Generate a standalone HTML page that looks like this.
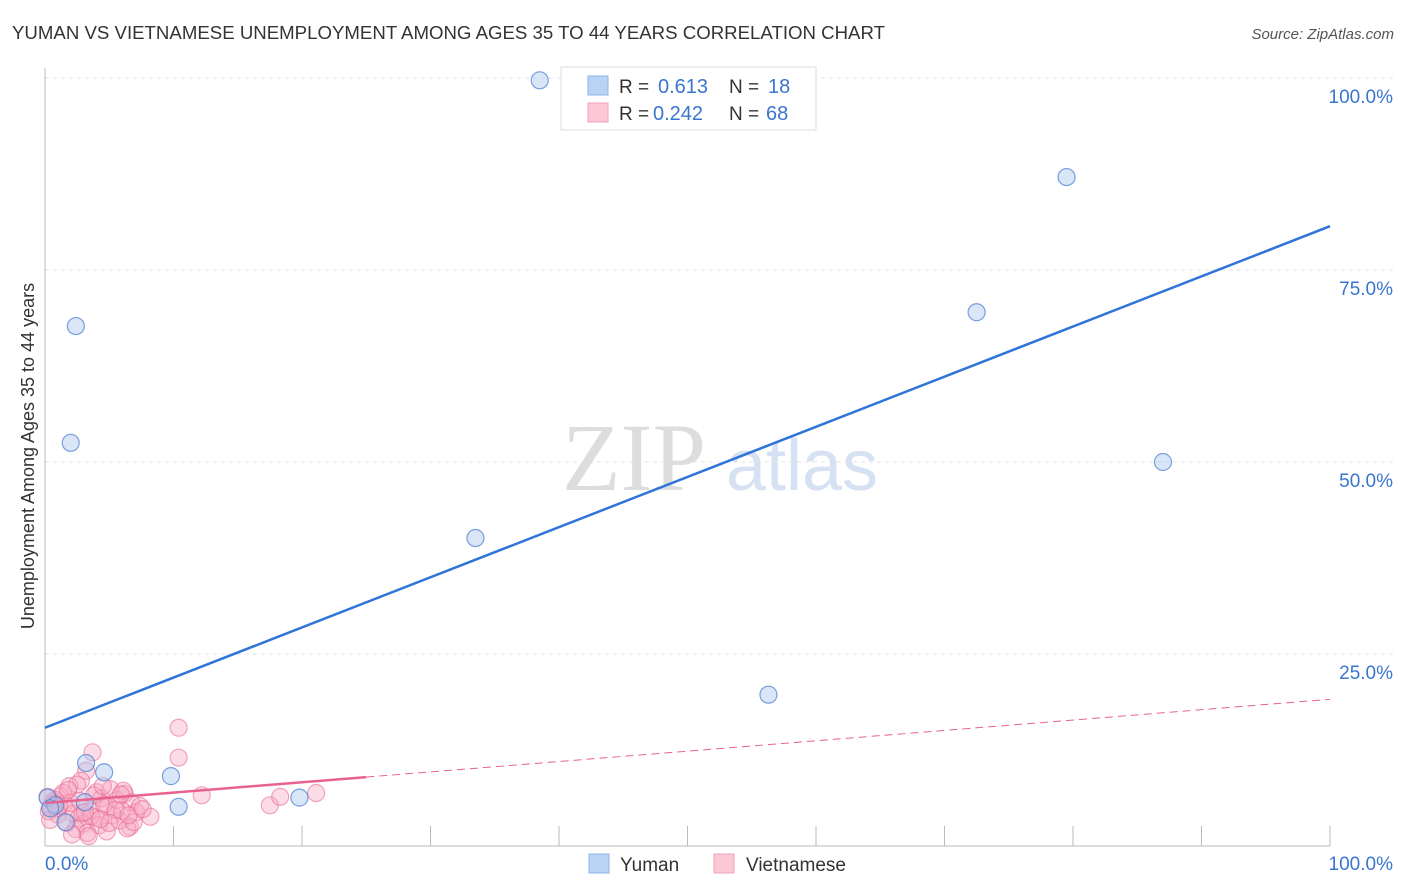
<!DOCTYPE html>
<html><head><meta charset="utf-8">
<style>
body{margin:0;background:#fff;font-family:"Liberation Sans",sans-serif;}
svg{display:block}
</style></head>
<body>
<svg id="chart" width="1406" height="892" xmlns="http://www.w3.org/2000/svg">
<text x="12" y="39" font-size="18" fill="#333" textLength="873" lengthAdjust="spacingAndGlyphs">YUMAN VS VIETNAMESE UNEMPLOYMENT AMONG AGES 35 TO 44 YEARS CORRELATION CHART</text>
<text x="1394" y="39" font-size="15" fill="#555" font-style="italic" text-anchor="end">Source: ZipAtlas.com</text>
<text x="34" y="456" font-size="18" fill="#333" text-anchor="middle" transform="rotate(-90 34 456)">Unemployment Among Ages 35 to 44 years</text>
<g>
<text x="634" y="490" font-size="96" fill="#ddd" font-family="Liberation Serif,serif" text-anchor="middle">ZIP</text>
<text x="802" y="490" font-size="72" fill="#d6e2f3" text-anchor="middle">atlas</text>
</g>
<g id="grid"></g>
<g id="axes"></g>
<g id="marks"></g>
<g>
<rect x="561" y="67" width="255" height="63" fill="#fff" stroke="#ddd"/>
<rect x="588" y="76" width="20" height="19" fill="#b9d3f5" stroke="#8fb4e6"/>
<rect x="588" y="103" width="20" height="19" fill="#fcc8d6" stroke="#f0a0b8"/>
<text x="619" y="93" font-size="19" fill="#333">R =</text>
<text x="658" y="93" font-size="20" fill="#3a75d0">0.613</text>
<text x="729" y="93" font-size="19" fill="#333">N =</text>
<text x="768" y="93" font-size="20" fill="#3a75d0">18</text>
<text x="619" y="120" font-size="19" fill="#333">R =</text>
<text x="653" y="120" font-size="20" fill="#3a75d0">0.242</text>
<text x="729" y="120" font-size="19" fill="#333">N =</text>
<text x="766" y="120" font-size="20" fill="#3a75d0">68</text>
</g>
<g>
<rect x="589" y="854" width="20" height="19" fill="#b9d3f5" stroke="#8fb4e6"/>
<text x="620" y="871" font-size="19" fill="#333">Yuman</text>
<rect x="714" y="854" width="20" height="19" fill="#fcc8d6" stroke="#f0a0b8"/>
<text x="746" y="871" font-size="19" fill="#333">Vietnamese</text>
</g>
</svg>
<script>
const yumanX=[38.5,79.5,2.4,72.5,2.0,87.0,33.5,56.3,3.2,4.6,9.8,10.4,19.8,3.1,0.2,1.6,0.8,0.4];
const yumanY=[99.7,87.1,67.7,69.5,52.5,50.0,40.1,19.7,10.8,9.6,9.1,5.1,6.3,5.7,6.3,3.1,5.3,4.9];
const vietX=[10.4,10.4,3.7,12.2,17.5,18.3,21.1,8.2,6.6,3.2,2.8,1.9,1.2,0.5,0.3,0.8,1.5,2.2,2.6,3.0,3.5,4.0,4.4,4.9,5.3,5.8,6.2,6.7,7.1,0.6,1.0,1.7,2.4,3.3,3.9,4.6,5.1,5.6,6.0,6.4,6.9,7.4,0.2,0.9,1.4,2.0,2.9,3.6,4.2,4.8,5.5,6.1,2.5,3.8,1.1,0.4,4.5,5.0,2.1,3.4,1.8,6.5,5.9,2.7,7.6,0.7,3.1,4.3];
const vietY=[15.4,11.5,12.2,6.6,5.3,6.4,6.9,3.8,2.5,9.8,8.5,7.8,6.5,5.0,4.5,6.0,5.5,4.2,3.6,2.9,4.8,7.0,6.2,5.1,4.0,3.3,6.8,5.7,4.4,5.8,4.1,3.0,2.2,1.7,3.7,5.4,7.4,6.0,4.6,2.3,3.1,5.2,6.4,4.9,6.9,5.6,4.3,3.9,2.7,1.9,4.7,7.2,8.0,6.6,5.2,3.4,7.8,3.0,1.5,1.3,7.3,4.0,6.7,5.9,4.8,5.5,4.4,3.5];
const yumanLine=[15.4,80.7];
const vietLine=[5.6,19.1];
const yTicks=[25,50,75,100];
const yTickLabels=["25.0%","50.0%","75.0%","100.0%"];
const NS="http://www.w3.org/2000/svg";
const sx=v=>45+v*12.85, sy=v=>846-v*7.68;
function mk(tag,attrs,parent){const e=document.createElementNS(NS,tag);for(const k in attrs)e.setAttribute(k,attrs[k]);document.getElementById(parent).appendChild(e);return e;}
yTicks.forEach((t,i)=>{
 const g=mk('line',{x1:45,x2:1394,y1:sy(t),y2:sy(t),stroke:'#e3e3e3','stroke-dasharray':'4,4'},'grid');
 
 
 const l=mk('text',{x:1393,y:sy(t)+25,'font-size':19,fill:'#3a75d0','text-anchor':'end'},'grid');
 l.textContent=yTickLabels[i];
 
 
});
const ax=mk('line',{x1:45,x2:45,y1:68,y2:846,stroke:'#bbb'},'axes');


const bx=mk('line',{x1:45,x2:1330,y1:846,y2:846,stroke:'#bbb'},'axes');


for(let i=1;i<=10;i++){const t=mk('line',{x1:sx(i*10),x2:sx(i*10),y1:826,y2:846,stroke:'#bbb'},'axes');
 
 }
const x0=mk('text',{x:45,y:870,'font-size':19,fill:'#3a75d0'},'axes');x0.textContent='0.0%';


const x1=mk('text',{x:1393,y:870,'font-size':19,fill:'#3a75d0','text-anchor':'end'},'axes');x1.textContent='100.0%';


vietX.forEach((x,i)=>{const c=mk('circle',{cx:sx(x),cy:sy(vietY[i]),r:8.5,fill:'rgba(248,170,195,0.4)',stroke:'rgba(232,110,150,0.6)','stroke-width':1.2},'marks');
 
 });
yumanX.forEach((x,i)=>{const c=mk('circle',{cx:sx(x),cy:sy(yumanY[i]),r:8.5,fill:'rgba(170,200,240,0.45)',stroke:'rgba(80,130,210,0.75)','stroke-width':1.2},'marks');
 
 });
const vl=v=>vietLine[0]+(vietLine[1]-vietLine[0])*v/100;
const p1=mk('line',{x1:sx(0),y1:sy(vl(0)),x2:sx(25),y2:sy(vl(25)),stroke:'#e8628e','stroke-width':2.5},'marks');


const p2=mk('line',{x1:sx(25),y1:sy(vl(25)),x2:sx(100),y2:sy(vl(100)),stroke:'#e8628e','stroke-width':1,'stroke-dasharray':'8,5'},'marks');


const bl=mk('line',{x1:sx(0),y1:sy(yumanLine[0]),x2:sx(100),y2:sy(yumanLine[1]),stroke:'#2f74d8','stroke-width':2.5},'marks');


</script>
</body></html>
